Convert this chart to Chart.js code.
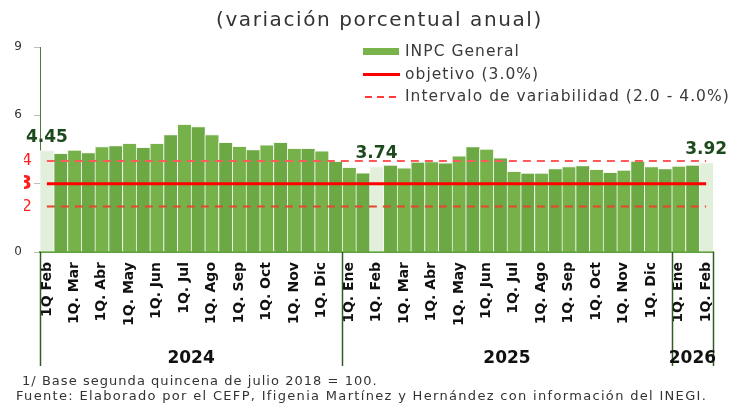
<!DOCTYPE html>
<html>
<head>
<meta charset="utf-8">
<script src="https://cdn.jsdelivr.net/npm/chart.js@4.4.1/dist/chart.umd.min.js"></script>
<style>
  html, body { margin: 0; padding: 0; background: #fff; }
  #wrap { width: 739px; height: 404px; }
</style>
</head>
<body>
<div id="wrap"><canvas id="inpc" width="739" height="404"></canvas></div>
<script>
// quincenas: 1Q feb 2024 ... 1Q feb 2026 (solo la 1Q lleva etiqueta)
const etiquetas = [
  '1Q Feb', '', '1Q. Mar', '', '1Q. Abr', '', '1Q. May', '', '1Q. Jun', '', '1Q. Jul', '',
  '1Q. Ago', '', '1Q. Sep', '', '1Q. Oct', '', '1Q. Nov', '', '1Q. Dic', '',
  '1Q. Ene', '', '1Q. Feb', '', '1Q. Mar', '', '1Q. Abr', '', '1Q. May', '', '1Q. Jun', '',
  '1Q. Jul', '', '1Q. Ago', '', '1Q. Sep', '', '1Q. Oct', '', '1Q. Nov', '', '1Q. Dic', '',
  '1Q. Ene', '', '1Q. Feb'
];
const inpc = [
  4.45, 4.33, 4.47, 4.36, 4.63, 4.67, 4.77, 4.60, 4.77, 5.16,
  5.61, 5.51, 5.16, 4.82, 4.64, 4.50, 4.70, 4.82, 4.55, 4.55,
  4.44, 3.98, 3.72, 3.48, 3.74, 3.82, 3.69, 3.95, 3.97, 3.91,
  4.22, 4.63, 4.52, 4.13, 3.54, 3.47, 3.47, 3.66, 3.75, 3.79,
  3.63, 3.50, 3.60, 3.99, 3.75, 3.66, 3.77, 3.82, 3.92
];
const destacados = [0, 24, 48];
const objetivo = 3.0;
const intervalo = [2.0, 4.0];
const anios = ['2024', '2025', '2026'];
const inicioAnio = [0, 22, 46];
const ticksY = [0, 3, 6, 9];          // eje gris
const ticksMeta = [2, 3, 4];          // etiquetas rojas

const titulo = '(variación porcentual anual)';
const leyenda = ['INPC General', 'objetivo (3.0%)', 'Intervalo de variabilidad (2.0 - 4.0%)'];
const notas = [
  '1/ Base segunda quincena de julio 2018 = 100.',
  'Fuente: Elaborado por el CEFP, Ifigenia Martínez y Hernández con información del INEGI.'
];

const FONT = '"DejaVu Sans", sans-serif';
const verde1 = '#76b14a', verde2 = '#6ca844', verdeClaro = '#e2efda';
const rojo = '#ff0000';

const n = etiquetas.length;
const colores = inpc.map((v, i) => destacados.includes(i) ? verdeClaro : (i % 2 ? verde2 : verde1));
const todosY = ticksY.concat(ticksMeta).filter((v, i, a) => a.indexOf(v) === i).sort((a, b) => a - b);

function valorTick(c) { return c && c.tick ? c.tick.value : null; }

// escribe texto ajustando el espaciado para que ocupe un ancho dado
function textoAncho(ctx, txt, x, y, ancho) {
  ctx.letterSpacing = '0px';
  const w = ctx.measureText(txt).width;
  const sp = Math.max(0, (ancho - w) / txt.length);
  ctx.letterSpacing = sp.toFixed(2) + 'px';
  ctx.fillText(txt, x, y);
  ctx.letterSpacing = '0px';
}

const extras = {
  id: 'extras',
  afterDatasetsDraw(chart) {
    const ctx = chart.ctx;
    const meta = chart.getDatasetMeta(3);
    ctx.save();
    ctx.font = 'bold 17px ' + FONT;
    ctx.fillStyle = '#1d4a1c';
    ctx.textAlign = 'center';
    destacados.forEach(i => {
      const bar = meta.data[i];
      ctx.fillText(inpc[i].toFixed(2), bar.x, bar.y - 9);
    });
    ctx.restore();
  },
  afterDraw(chart) {
    const ctx = chart.ctx;
    const xs = chart.scales.x;
    ctx.save();

    // titulo
    ctx.fillStyle = '#333';
    ctx.font = '20px ' + FONT;
    ctx.textAlign = 'left';
    textoAncho(ctx, titulo, 216, 26, 327);

    // leyenda
    const lx = 363;
    ctx.fillStyle = '#7ab34a';
    ctx.fillRect(lx, 48, 36, 7);
    ctx.strokeStyle = rojo;
    ctx.lineWidth = 3;
    ctx.beginPath(); ctx.moveTo(lx, 74.5); ctx.lineTo(lx + 37, 74.5); ctx.stroke();
    ctx.strokeStyle = '#ff3b3b';
    ctx.lineWidth = 2;
    ctx.setLineDash([7, 5]);
    ctx.beginPath(); ctx.moveTo(lx + 2, 97); ctx.lineTo(lx + 37, 97); ctx.stroke();
    ctx.setLineDash([]);
    ctx.fillStyle = '#3a3a3a';
    ctx.font = '15.5px ' + FONT;
    ctx.letterSpacing = '0px';
    const wL = ctx.measureText(leyenda[2]).width;
    const spL = Math.max(0, (325 - wL) / leyenda[2].length);
    ctx.letterSpacing = spL.toFixed(2) + 'px';
    leyenda.forEach((t, k) => ctx.fillText(t, 405, 56 + k * 22.5));
    ctx.letterSpacing = '0px';

    // separadores y años
    const w = (xs.right - xs.left) / n;
    const bordes = inicioAnio.concat([n]);
    ctx.strokeStyle = '#2f5e22';
    ctx.lineWidth = 1.5;
    bordes.forEach(b => {
      const x = Math.round(xs.left + b * w) + 0.5;
      ctx.beginPath(); ctx.moveTo(x, xs.top); ctx.lineTo(x, 366); ctx.stroke();
    });
    ctx.fillStyle = '#111';
    ctx.font = 'bold 17px ' + FONT;
    ctx.textAlign = 'center';
    anios.forEach((a, k) => {
      const cx = xs.left + (bordes[k] + bordes[k + 1]) / 2 * w;
      ctx.fillText(a, cx, 363);
    });

    // notas
    ctx.textAlign = 'left';
    ctx.fillStyle = '#333';
    ctx.font = '13px ' + FONT;
    textoAncho(ctx, notas[0], 22, 385, 356);
    textoAncho(ctx, notas[1], 16, 400, 691);
    ctx.restore();
  }
};

new Chart(document.getElementById('inpc'), {
  data: {
    labels: etiquetas,
    datasets: [
      {
        type: 'line', label: leyenda[1], order: 1,
        data: etiquetas.map(() => objetivo),
        borderColor: rojo, borderWidth: 3, pointRadius: 0
      },
      {
        type: 'line', label: leyenda[2], order: 1,
        data: etiquetas.map(() => intervalo[1]),
        borderColor: '#ff5a5a', borderWidth: 2, borderDash: [8, 6], pointRadius: 0
      },
      {
        type: 'line', label: leyenda[2], order: 1,
        data: etiquetas.map(() => intervalo[0]),
        borderColor: '#e8442e', borderWidth: 2, borderDash: [8, 6], pointRadius: 0
      },
      {
        type: 'bar', label: leyenda[0], order: 2,
        data: inpc,
        backgroundColor: colores,
        borderColor: '#f2f8ee',
        borderWidth: { left: 1, top: 1, right: 0, bottom: 0 },
        barPercentage: 1, categoryPercentage: 1
      }
    ]
  },
  options: {
    responsive: false,
    animation: false,
    devicePixelRatio: 1,
    layout: { padding: { top: 47, right: 26, left: 0, bottom: 0 } },
    plugins: { legend: { display: false }, tooltip: { enabled: false } },
    scales: {
      x: {
        offset: true,
        grid: { display: true, drawOnChartArea: false, drawTicks: false },
        border: { color: '#62a33f', width: 2 },
        ticks: {
          autoSkip: false, minRotation: 90, maxRotation: 90, padding: 10,
          color: '#111', font: { family: FONT, size: 14, weight: 'bold' }
        },
        afterFit: s => { s.height = 152; }
      },
      // eje interior: marcas grises y etiquetas rojas de la meta
      y: {
        position: 'left', weight: 0,
        min: 0, max: 9,
        afterBuildTicks: s => { s.ticks = todosY.map(v => ({ value: v })); },
        afterFit: s => { s.width = 16; },
        border: { color: '#4d7a35', width: 1 },
        grid: {
          drawOnChartArea: false, tickLength: 6,
          tickColor: c => ticksY.includes(valorTick(c)) ? '#bdbdbd' : 'rgba(0,0,0,0)'
        },
        ticks: {
          autoSkip: false,
          padding: 2,
          callback: v => ticksMeta.includes(v) ? String(v) : '',
          color: '#ff1f1f',
          font: c => valorTick(c) === objetivo
            ? { family: FONT, size: 19, weight: 'bold' }
            : { family: FONT, size: 16 }
        }
      },
      // eje exterior: etiquetas grises
      yg: {
        position: 'left', weight: 1,
        min: 0, max: 9,
        afterBuildTicks: s => { s.ticks = ticksY.map(v => ({ value: v })); },
        afterFit: s => { s.width = 24; },
        border: { display: false },
        grid: { display: false, drawTicks: false },
        ticks: {
          autoSkip: false,
          padding: 2,
          callback: v => ticksMeta.includes(v) ? '' : String(v),
          color: '#333',
          font: { family: FONT, size: 12 }
        }
      }
    }
  },
  plugins: [extras]
});
</script>
</body>
</html>
